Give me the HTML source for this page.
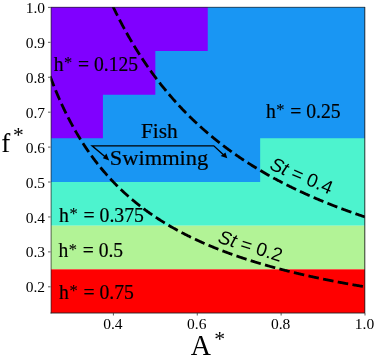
<!DOCTYPE html>
<html><head><meta charset="utf-8"><style>
html,body{margin:0;padding:0;background:#fff;width:375px;height:358px;overflow:hidden}
svg{display:block;will-change:transform}
</style></head><body>
<svg width="375" height="358" viewBox="0 0 375 358">
<defs><clipPath id="r"><rect x="51" y="7" width="314" height="306"/></clipPath></defs><g clip-path="url(#r)">
<rect x="46.31" y="3.91" width="322.89" height="178.12" fill="#1996f3"/>
<polygon points="46.31,3.91 207.75,3.91 207.75,51.06 155.33,51.06 155.33,94.71 102.92,94.71 102.92,138.37 46.31,138.37" fill="#8000ff"/>
<polygon points="46.31,182.03 260.17,182.03 260.17,138.37 369.19,138.37 369.19,225.69 46.31,225.69" fill="#4df3ce"/>
<rect x="46.31" y="225.69" width="322.89" height="43.66" fill="#b2f396"/>
<rect x="46.31" y="269.34" width="322.89" height="45.40" fill="#ff0000"/>
</g>
<defs><clipPath id="c"><rect x="50.50" y="7.00" width="314.50" height="306.00"/></clipPath></defs>
<g clip-path="url(#c)" fill="none" stroke="#000" stroke-width="2.8" stroke-dasharray="10.6 4.35">
<polyline points="29.53,-341.86 29.95,-338.38 30.37,-334.93 30.79,-331.52 31.21,-328.14 31.63,-324.80 32.05,-321.49 32.47,-318.21 32.89,-314.96 33.31,-311.74 33.73,-308.55 34.15,-305.40 34.57,-302.27 34.99,-299.17 35.41,-296.11 35.83,-293.07 36.25,-290.06 36.67,-287.07 37.09,-284.12 37.51,-281.19 37.93,-278.28 38.35,-275.41 38.77,-272.56 39.19,-269.73 39.61,-266.93 40.03,-264.16 40.45,-261.41 40.87,-258.68 41.29,-255.98 41.71,-253.30 42.13,-250.65 42.55,-248.02 42.97,-245.41 43.39,-242.82 43.81,-240.26 44.23,-237.71 44.65,-235.19 45.07,-232.69 45.49,-230.21 45.91,-227.75 46.33,-225.32 46.75,-222.90 47.17,-220.50 47.59,-218.12 48.01,-215.77 48.43,-213.43 48.85,-211.11 49.27,-208.81 49.69,-206.52 50.11,-204.26 50.53,-202.01 50.95,-199.79 51.37,-197.58 51.79,-195.38 52.21,-193.21 52.63,-191.05 53.05,-188.91 53.47,-186.78 53.89,-184.67 54.30,-182.58 54.72,-180.51 55.14,-178.45 55.56,-176.40 55.98,-174.37 56.40,-172.36 56.82,-170.36 57.24,-168.38 57.66,-166.41 58.08,-164.46 58.50,-162.52 58.92,-160.59 59.34,-158.68 59.76,-156.79 60.18,-154.90 60.60,-153.04 61.02,-151.18 61.44,-149.34 61.86,-147.51 62.28,-145.69 62.70,-143.89 63.12,-142.10 63.54,-140.33 63.96,-138.56 64.38,-136.81 64.80,-135.07 65.22,-133.35 65.64,-131.63 66.06,-129.93 66.48,-128.24 66.90,-126.56 67.32,-124.89 67.74,-123.23 68.16,-121.59 68.58,-119.96 69.00,-118.33 69.42,-116.72 69.84,-115.12 70.26,-113.53 70.68,-111.95 71.10,-110.38 71.52,-108.82 71.94,-107.28 72.36,-105.74 72.78,-104.21 73.20,-102.70 73.62,-101.19 74.04,-99.69 74.46,-98.20 74.88,-96.72 75.30,-95.26 75.72,-93.80 76.14,-92.35 76.56,-90.91 76.98,-89.48 77.40,-88.05 77.82,-86.64 78.24,-85.24 78.66,-83.84 79.08,-82.46 79.50,-81.08 79.92,-79.71 80.34,-78.35 80.76,-77.00 81.18,-75.65 81.60,-74.32 82.02,-72.99 82.44,-71.67 82.86,-70.36 83.28,-69.06 83.70,-67.76 84.11,-66.48 84.53,-65.20 84.95,-63.93 85.37,-62.66 85.79,-61.40 86.21,-60.16 86.63,-58.91 87.05,-57.68 87.47,-56.45 87.89,-55.23 88.31,-54.02 88.73,-52.82 89.15,-51.62 89.57,-50.43 89.99,-49.24 90.41,-48.07 90.83,-46.90 91.25,-45.73 91.67,-44.57 92.09,-43.42 92.51,-42.28 92.93,-41.14 93.35,-40.01 93.77,-38.89 94.19,-37.77 94.61,-36.66 95.03,-35.55 95.45,-34.45 95.87,-33.36 96.29,-32.27 96.71,-31.19 97.13,-30.12 97.55,-29.05 97.97,-27.98 98.39,-26.93 98.81,-25.87 99.23,-24.83 99.65,-23.79 100.07,-22.75 100.49,-21.72 100.91,-20.70 101.33,-19.68 101.75,-18.67 102.17,-17.66 102.59,-16.66 103.01,-15.67 103.43,-14.68 103.85,-13.69 104.27,-12.71 104.69,-11.73 105.11,-10.76 105.53,-9.80 105.95,-8.84 106.37,-7.88 106.79,-6.93 107.21,-5.99 107.63,-5.05 108.05,-4.11 108.47,-3.18 108.89,-2.26 109.31,-1.34 109.73,-0.42 110.15,0.49 110.57,1.40 110.99,2.30 111.41,3.20 111.83,4.09 112.25,4.98 112.67,5.86 113.09,6.74 113.50,7.62 113.92,8.49 114.34,9.36 114.76,10.22 115.18,11.08 115.60,11.93 116.02,12.78 116.44,13.63 116.86,14.47 117.28,15.30 117.70,16.14 118.12,16.97 118.54,17.79 118.96,18.61 119.38,19.43 119.80,20.24 120.22,21.05 120.64,21.86 121.06,22.66 121.48,23.46 121.90,24.25 122.32,25.04 122.74,25.83 123.16,26.61 123.58,27.39 124.00,28.16 124.42,28.93 124.84,29.70 125.26,30.47 125.68,31.23 126.10,31.98 126.52,32.74 126.94,33.49 127.36,34.23 127.78,34.98 128.20,35.72 128.62,36.45 129.04,37.19 129.46,37.92 129.88,38.64 130.30,39.37 130.72,40.09 131.14,40.80 131.56,41.52 131.98,42.23 132.40,42.93 132.82,43.64 133.24,44.34 133.66,45.04 134.08,45.73 134.50,46.42 134.92,47.11 135.34,47.80 135.76,48.48 136.18,49.16 136.60,49.83 137.02,50.51 137.44,51.18 137.86,51.84 138.28,52.51 138.70,53.17 139.12,53.83 139.54,54.48 139.96,55.14 140.38,55.79 140.80,56.44 141.22,57.08 141.64,57.72 142.06,58.36 142.48,59.00 142.90,59.63 143.31,60.26 143.73,60.89 144.15,61.52 144.57,62.14 144.99,62.76 145.41,63.38 145.83,63.99 146.25,64.60 146.67,65.21 147.09,65.82 147.51,66.43 147.93,67.03 148.35,67.63 148.77,68.23 149.19,68.82 149.61,69.41 150.03,70.00 150.45,70.59 150.87,71.18 151.29,71.76 151.71,72.34 152.13,72.92 152.55,73.49 152.97,74.07 153.39,74.64 153.81,75.21 154.23,75.77 154.65,76.34 155.07,76.90 155.49,77.46 155.91,78.02 156.33,78.57 156.75,79.13 157.17,79.68 157.59,80.23 158.01,80.77 158.43,81.32 158.85,81.86 159.27,82.40 159.69,82.94 160.11,83.47 160.53,84.01 160.95,84.54 161.37,85.07 161.79,85.60 162.21,86.12 162.63,86.65 163.05,87.17 163.47,87.69 163.89,88.20 164.31,88.72 164.73,89.23 165.15,89.75 165.57,90.25 165.99,90.76 166.41,91.27 166.83,91.77 167.25,92.27 167.67,92.77 168.09,93.27 168.51,93.77 168.93,94.26 169.35,94.76 169.77,95.25 170.19,95.73 170.61,96.22 171.03,96.71 171.45,97.19 171.87,97.67 172.29,98.15 172.70,98.63 173.12,99.11 173.54,99.58 173.96,100.05 174.38,100.52 174.80,100.99 175.22,101.46 175.64,101.93 176.06,102.39 176.48,102.85 176.90,103.31 177.32,103.77 177.74,104.23 178.16,104.69 178.58,105.14 179.00,105.59 179.42,106.05 179.84,106.49 180.26,106.94 180.68,107.39 181.10,107.83 181.52,108.28 181.94,108.72 182.36,109.16 182.78,109.60 183.20,110.03 183.62,110.47 184.04,110.90 184.46,111.33 184.88,111.76 185.30,112.19 185.72,112.62 186.14,113.05 186.56,113.47 186.98,113.89 187.40,114.32 187.82,114.74 188.24,115.15 188.66,115.57 189.08,115.99 189.50,116.40 189.92,116.81 190.34,117.23 190.76,117.64 191.18,118.05 191.60,118.45 192.02,118.86 192.44,119.26 192.86,119.67 193.28,120.07 193.70,120.47 194.12,120.87 194.54,121.27 194.96,121.66 195.38,122.06 195.80,122.45 196.22,122.84 196.64,123.23 197.06,123.62 197.48,124.01 197.90,124.40 198.32,124.79 198.74,125.17 199.16,125.55 199.58,125.94 200.00,126.32 200.42,126.70 200.84,127.08 201.26,127.45 201.68,127.83 202.10,128.20 202.51,128.58 202.93,128.95 203.35,129.32 203.77,129.69 204.19,130.06 204.61,130.43 205.03,130.79 205.45,131.16 205.87,131.52 206.29,131.88 206.71,132.25 207.13,132.61 207.55,132.96 207.97,133.32 208.39,133.68 208.81,134.04 209.23,134.39 209.65,134.74 210.07,135.10 210.49,135.45 210.91,135.80 211.33,136.15 211.75,136.49 212.17,136.84 212.59,137.19 213.01,137.53 213.43,137.88 213.85,138.22 214.27,138.56 214.69,138.90 215.11,139.24 215.53,139.58 215.95,139.91 216.37,140.25 216.79,140.59 217.21,140.92 217.63,141.25 218.05,141.58 218.47,141.92 218.89,142.25 219.31,142.57 219.73,142.90 220.15,143.23 220.57,143.56 220.99,143.88 221.41,144.20 221.83,144.53 222.25,144.85 222.67,145.17 223.09,145.49 223.51,145.81 223.93,146.13 224.35,146.45 224.77,146.76 225.19,147.08 225.61,147.39 226.03,147.70 226.45,148.02 226.87,148.33 227.29,148.64 227.71,148.95 228.13,149.26 228.55,149.57 228.97,149.87 229.39,150.18 229.81,150.48 230.23,150.79 230.65,151.09 231.07,151.39 231.49,151.69 231.90,152.00 232.32,152.30 232.74,152.59 233.16,152.89 233.58,153.19 234.00,153.49 234.42,153.78 234.84,154.08 235.26,154.37 235.68,154.66 236.10,154.95 236.52,155.25 236.94,155.54 237.36,155.82 237.78,156.11 238.20,156.40 238.62,156.69 239.04,156.97 239.46,157.26 239.88,157.54 240.30,157.83 240.72,158.11 241.14,158.39 241.56,158.67 241.98,158.96 242.40,159.23 242.82,159.51 243.24,159.79 243.66,160.07 244.08,160.35 244.50,160.62 244.92,160.90 245.34,161.17 245.76,161.44 246.18,161.72 246.60,161.99 247.02,162.26 247.44,162.53 247.86,162.80 248.28,163.07 248.70,163.34 249.12,163.61 249.54,163.87 249.96,164.14 250.38,164.40 250.80,164.67 251.22,164.93 251.64,165.19 252.06,165.46 252.48,165.72 252.90,165.98 253.32,166.24 253.74,166.50 254.16,166.76 254.58,167.02 255.00,167.27 255.42,167.53 255.84,167.79 256.26,168.04 256.68,168.30 257.10,168.55 257.52,168.80 257.94,169.06 258.36,169.31 258.78,169.56 259.20,169.81 259.62,170.06 260.04,170.31 260.46,170.56 260.88,170.81 261.30,171.05 261.71,171.30 262.13,171.55 262.55,171.79 262.97,172.03 263.39,172.28 263.81,172.52 264.23,172.76 264.65,173.01 265.07,173.25 265.49,173.49 265.91,173.73 266.33,173.97 266.75,174.21 267.17,174.45 267.59,174.68 268.01,174.92 268.43,175.16 268.85,175.39 269.27,175.63 269.69,175.86 270.11,176.10 270.53,176.33 270.95,176.56 271.37,176.79 271.79,177.03 272.21,177.26 272.63,177.49 273.05,177.72 273.47,177.95 273.89,178.18 274.31,178.40 274.73,178.63 275.15,178.86 275.57,179.08 275.99,179.31 276.41,179.53 276.83,179.76 277.25,179.98 277.67,180.21 278.09,180.43 278.51,180.65 278.93,180.87 279.35,181.09 279.77,181.32 280.19,181.54 280.61,181.75 281.03,181.97 281.45,182.19 281.87,182.41 282.29,182.63 282.71,182.84 283.13,183.06 283.55,183.28 283.97,183.49 284.39,183.71 284.81,183.92 285.23,184.13 285.65,184.35 286.07,184.56 286.49,184.77 286.91,184.98 287.33,185.19 287.75,185.40 288.17,185.61 288.59,185.82 289.01,186.03 289.43,186.24 289.85,186.45 290.27,186.66 290.69,186.86 291.10,187.07 291.52,187.28 291.94,187.48 292.36,187.69 292.78,187.89 293.20,188.09 293.62,188.30 294.04,188.50 294.46,188.70 294.88,188.90 295.30,189.11 295.72,189.31 296.14,189.51 296.56,189.71 296.98,189.91 297.40,190.11 297.82,190.30 298.24,190.50 298.66,190.70 299.08,190.90 299.50,191.09 299.92,191.29 300.34,191.49 300.76,191.68 301.18,191.88 301.60,192.07 302.02,192.26 302.44,192.46 302.86,192.65 303.28,192.84 303.70,193.04 304.12,193.23 304.54,193.42 304.96,193.61 305.38,193.80 305.80,193.99 306.22,194.18 306.64,194.37 307.06,194.56 307.48,194.74 307.90,194.93 308.32,195.12 308.74,195.31 309.16,195.49 309.58,195.68 310.00,195.86 310.42,196.05 310.84,196.23 311.26,196.42 311.68,196.60 312.10,196.79 312.52,196.97 312.94,197.15 313.36,197.33 313.78,197.51 314.20,197.70 314.62,197.88 315.04,198.06 315.46,198.24 315.88,198.42 316.30,198.60 316.72,198.78 317.14,198.95 317.56,199.13 317.98,199.31 318.40,199.49 318.82,199.66 319.24,199.84 319.66,200.02 320.08,200.19 320.50,200.37 320.91,200.54 321.33,200.72 321.75,200.89 322.17,201.06 322.59,201.24 323.01,201.41 323.43,201.58 323.85,201.75 324.27,201.93 324.69,202.10 325.11,202.27 325.53,202.44 325.95,202.61 326.37,202.78 326.79,202.95 327.21,203.12 327.63,203.29 328.05,203.46 328.47,203.62 328.89,203.79 329.31,203.96 329.73,204.13 330.15,204.29 330.57,204.46 330.99,204.62 331.41,204.79 331.83,204.95 332.25,205.12 332.67,205.28 333.09,205.45 333.51,205.61 333.93,205.78 334.35,205.94 334.77,206.10 335.19,206.26 335.61,206.42 336.03,206.59 336.45,206.75 336.87,206.91 337.29,207.07 337.71,207.23 338.13,207.39 338.55,207.55 338.97,207.71 339.39,207.87 339.81,208.03 340.23,208.18 340.65,208.34 341.07,208.50 341.49,208.66 341.91,208.81 342.33,208.97 342.75,209.13 343.17,209.28 343.59,209.44 344.01,209.59 344.43,209.75 344.85,209.90 345.27,210.06 345.69,210.21 346.11,210.36 346.53,210.52 346.95,210.67 347.37,210.82 347.79,210.97 348.21,211.13 348.63,211.28 349.05,211.43 349.47,211.58 349.89,211.73 350.30,211.88 350.72,212.03 351.14,212.18 351.56,212.33 351.98,212.48 352.40,212.63 352.82,212.78 353.24,212.92 353.66,213.07 354.08,213.22 354.50,213.37 354.92,213.51 355.34,213.66 355.76,213.81 356.18,213.95 356.60,214.10 357.02,214.25 357.44,214.39 357.86,214.54 358.28,214.68 358.70,214.82 359.12,214.97 359.54,215.11 359.96,215.26 360.38,215.40 360.80,215.54 361.22,215.68 361.64,215.83 362.06,215.97 362.48,216.11 362.90,216.25 363.32,216.39 363.74,216.53 364.16,216.67 364.58,216.81 365.00,216.95" stroke-dashoffset="14.35"/>
<polyline points="29.53,7.40 29.95,9.14 30.37,10.86 30.79,12.57 31.21,14.26 31.63,15.93 32.05,17.58 32.47,19.22 32.89,20.85 33.31,22.46 33.73,24.05 34.15,25.63 34.57,27.19 34.99,28.74 35.41,30.28 35.83,31.80 36.25,33.30 36.67,34.79 37.09,36.27 37.51,37.74 37.93,39.19 38.35,40.62 38.77,42.05 39.19,43.46 39.61,44.86 40.03,46.25 40.45,47.62 40.87,48.99 41.29,50.34 41.71,51.68 42.13,53.00 42.55,54.32 42.97,55.63 43.39,56.92 43.81,58.20 44.23,59.47 44.65,60.73 45.07,61.98 45.49,63.22 45.91,64.45 46.33,65.67 46.75,66.88 47.17,68.08 47.59,69.27 48.01,70.45 48.43,71.61 48.85,72.77 49.27,73.93 49.69,75.07 50.11,76.20 50.53,77.32 50.95,78.44 51.37,79.54 51.79,80.64 52.21,81.72 52.63,82.80 53.05,83.87 53.47,84.94 53.89,85.99 54.30,87.04 54.72,88.08 55.14,89.11 55.56,90.13 55.98,91.14 56.40,92.15 56.82,93.15 57.24,94.14 57.66,95.12 58.08,96.10 58.50,97.07 58.92,98.03 59.34,98.99 59.76,99.94 60.18,100.88 60.60,101.81 61.02,102.74 61.44,103.66 61.86,104.57 62.28,105.48 62.70,106.38 63.12,107.28 63.54,108.17 63.96,109.05 64.38,109.92 64.80,110.79 65.22,111.66 65.64,112.51 66.06,113.36 66.48,114.21 66.90,115.05 67.32,115.88 67.74,116.71 68.16,117.53 68.58,118.35 69.00,119.16 69.42,119.97 69.84,120.77 70.26,121.56 70.68,122.35 71.10,123.14 71.52,123.92 71.94,124.69 72.36,125.46 72.78,126.22 73.20,126.98 73.62,127.73 74.04,128.48 74.46,129.23 74.88,129.97 75.30,130.70 75.72,131.43 76.14,132.15 76.56,132.87 76.98,133.59 77.40,134.30 77.82,135.01 78.24,135.71 78.66,136.41 79.08,137.10 79.50,137.79 79.92,138.47 80.34,139.15 80.76,139.83 81.18,140.50 81.60,141.17 82.02,141.83 82.44,142.49 82.86,143.15 83.28,143.80 83.70,144.45 84.11,145.09 84.53,145.73 84.95,146.37 85.37,147.00 85.79,147.63 86.21,148.25 86.63,148.87 87.05,149.49 87.47,150.10 87.89,150.71 88.31,151.32 88.73,151.92 89.15,152.52 89.57,153.11 89.99,153.71 90.41,154.30 90.83,154.88 91.25,155.46 91.67,156.04 92.09,156.62 92.51,157.19 92.93,157.76 93.35,158.32 93.77,158.89 94.19,159.44 94.61,160.00 95.03,160.55 95.45,161.10 95.87,161.65 96.29,162.19 96.71,162.73 97.13,163.27 97.55,163.81 97.97,164.34 98.39,164.87 98.81,165.39 99.23,165.91 99.65,166.43 100.07,166.95 100.49,167.47 100.91,167.98 101.33,168.49 101.75,168.99 102.17,169.50 102.59,170.00 103.01,170.50 103.43,170.99 103.85,171.48 104.27,171.97 104.69,172.46 105.11,172.95 105.53,173.43 105.95,173.91 106.37,174.39 106.79,174.86 107.21,175.33 107.63,175.80 108.05,176.27 108.47,176.74 108.89,177.20 109.31,177.66 109.73,178.12 110.15,178.57 110.57,179.03 110.99,179.48 111.41,179.93 111.83,180.37 112.25,180.82 112.67,181.26 113.09,181.70 113.50,182.14 113.92,182.57 114.34,183.01 114.76,183.44 115.18,183.87 115.60,184.29 116.02,184.72 116.44,185.14 116.86,185.56 117.28,185.98 117.70,186.40 118.12,186.81 118.54,187.22 118.96,187.63 119.38,188.04 119.80,188.45 120.22,188.85 120.64,189.26 121.06,189.66 121.48,190.06 121.90,190.45 122.32,190.85 122.74,191.24 123.16,191.63 123.58,192.02 124.00,192.41 124.42,192.80 124.84,193.18 125.26,193.56 125.68,193.94 126.10,194.32 126.52,194.70 126.94,195.07 127.36,195.45 127.78,195.82 128.20,196.19 128.62,196.56 129.04,196.92 129.46,197.29 129.88,197.65 130.30,198.01 130.72,198.37 131.14,198.73 131.56,199.09 131.98,199.44 132.40,199.80 132.82,200.15 133.24,200.50 133.66,200.85 134.08,201.19 134.50,201.54 134.92,201.88 135.34,202.23 135.76,202.57 136.18,202.91 136.60,203.25 137.02,203.58 137.44,203.92 137.86,204.25 138.28,204.58 138.70,204.91 139.12,205.24 139.54,205.57 139.96,205.90 140.38,206.22 140.80,206.55 141.22,206.87 141.64,207.19 142.06,207.51 142.48,207.83 142.90,208.14 143.31,208.46 143.73,208.77 144.15,209.09 144.57,209.40 144.99,209.71 145.41,210.02 145.83,210.32 146.25,210.63 146.67,210.94 147.09,211.24 147.51,211.54 147.93,211.84 148.35,212.14 148.77,212.44 149.19,212.74 149.61,213.04 150.03,213.33 150.45,213.62 150.87,213.92 151.29,214.21 151.71,214.50 152.13,214.79 152.55,215.08 152.97,215.36 153.39,215.65 153.81,215.93 154.23,216.22 154.65,216.50 155.07,216.78 155.49,217.06 155.91,217.34 156.33,217.62 156.75,217.89 157.17,218.17 157.59,218.44 158.01,218.72 158.43,218.99 158.85,219.26 159.27,219.53 159.69,219.80 160.11,220.07 160.53,220.33 160.95,220.60 161.37,220.86 161.79,221.13 162.21,221.39 162.63,221.65 163.05,221.91 163.47,222.17 163.89,222.43 164.31,222.69 164.73,222.95 165.15,223.20 165.57,223.46 165.99,223.71 166.41,223.96 166.83,224.21 167.25,224.47 167.67,224.72 168.09,224.96 168.51,225.21 168.93,225.46 169.35,225.71 169.77,225.95 170.19,226.20 170.61,226.44 171.03,226.68 171.45,226.92 171.87,227.16 172.29,227.40 172.70,227.64 173.12,227.88 173.54,228.12 173.96,228.36 174.38,228.59 174.80,228.83 175.22,229.06 175.64,229.29 176.06,229.52 176.48,229.76 176.90,229.99 177.32,230.22 177.74,230.44 178.16,230.67 178.58,230.90 179.00,231.13 179.42,231.35 179.84,231.58 180.26,231.80 180.68,232.02 181.10,232.24 181.52,232.47 181.94,232.69 182.36,232.91 182.78,233.13 183.20,233.34 183.62,233.56 184.04,233.78 184.46,233.99 184.88,234.21 185.30,234.42 185.72,234.64 186.14,234.85 186.56,235.06 186.98,235.28 187.40,235.49 187.82,235.70 188.24,235.91 188.66,236.11 189.08,236.32 189.50,236.53 189.92,236.74 190.34,236.94 190.76,237.15 191.18,237.35 191.60,237.55 192.02,237.76 192.44,237.96 192.86,238.16 193.28,238.36 193.70,238.56 194.12,238.76 194.54,238.96 194.96,239.16 195.38,239.36 195.80,239.55 196.22,239.75 196.64,239.95 197.06,240.14 197.48,240.34 197.90,240.53 198.32,240.72 198.74,240.91 199.16,241.11 199.58,241.30 200.00,241.49 200.42,241.68 200.84,241.87 201.26,242.05 201.68,242.24 202.10,242.43 202.51,242.62 202.93,242.80 203.35,242.99 203.77,243.17 204.19,243.36 204.61,243.54 205.03,243.72 205.45,243.91 205.87,244.09 206.29,244.27 206.71,244.45 207.13,244.63 207.55,244.81 207.97,244.99 208.39,245.17 208.81,245.35 209.23,245.52 209.65,245.70 210.07,245.88 210.49,246.05 210.91,246.23 211.33,246.40 211.75,246.58 212.17,246.75 212.59,246.92 213.01,247.09 213.43,247.27 213.85,247.44 214.27,247.61 214.69,247.78 215.11,247.95 215.53,248.12 215.95,248.29 216.37,248.45 216.79,248.62 217.21,248.79 217.63,248.95 218.05,249.12 218.47,249.29 218.89,249.45 219.31,249.62 219.73,249.78 220.15,249.94 220.57,250.11 220.99,250.27 221.41,250.43 221.83,250.59 222.25,250.75 222.67,250.91 223.09,251.07 223.51,251.23 223.93,251.39 224.35,251.55 224.77,251.71 225.19,251.87 225.61,252.02 226.03,252.18 226.45,252.34 226.87,252.49 227.29,252.65 227.71,252.80 228.13,252.96 228.55,253.11 228.97,253.26 229.39,253.42 229.81,253.57 230.23,253.72 230.65,253.87 231.07,254.03 231.49,254.18 231.90,254.33 232.32,254.48 232.74,254.63 233.16,254.77 233.58,254.92 234.00,255.07 234.42,255.22 234.84,255.37 235.26,255.51 235.68,255.66 236.10,255.81 236.52,255.95 236.94,256.10 237.36,256.24 237.78,256.39 238.20,256.53 238.62,256.67 239.04,256.82 239.46,256.96 239.88,257.10 240.30,257.24 240.72,257.38 241.14,257.53 241.56,257.67 241.98,257.81 242.40,257.95 242.82,258.09 243.24,258.22 243.66,258.36 244.08,258.50 244.50,258.64 244.92,258.78 245.34,258.91 245.76,259.05 246.18,259.19 246.60,259.32 247.02,259.46 247.44,259.59 247.86,259.73 248.28,259.86 248.70,260.00 249.12,260.13 249.54,260.26 249.96,260.40 250.38,260.53 250.80,260.66 251.22,260.79 251.64,260.93 252.06,261.06 252.48,261.19 252.90,261.32 253.32,261.45 253.74,261.58 254.16,261.71 254.58,261.84 255.00,261.97 255.42,262.09 255.84,262.22 256.26,262.35 256.68,262.48 257.10,262.60 257.52,262.73 257.94,262.86 258.36,262.98 258.78,263.11 259.20,263.23 259.62,263.36 260.04,263.48 260.46,263.61 260.88,263.73 261.30,263.85 261.71,263.98 262.13,264.10 262.55,264.22 262.97,264.35 263.39,264.47 263.81,264.59 264.23,264.71 264.65,264.83 265.07,264.95 265.49,265.07 265.91,265.19 266.33,265.31 266.75,265.43 267.17,265.55 267.59,265.67 268.01,265.79 268.43,265.91 268.85,266.02 269.27,266.14 269.69,266.26 270.11,266.38 270.53,266.49 270.95,266.61 271.37,266.73 271.79,266.84 272.21,266.96 272.63,267.07 273.05,267.19 273.47,267.30 273.89,267.42 274.31,267.53 274.73,267.64 275.15,267.76 275.57,267.87 275.99,267.98 276.41,268.10 276.83,268.21 277.25,268.32 277.67,268.43 278.09,268.54 278.51,268.65 278.93,268.77 279.35,268.88 279.77,268.99 280.19,269.10 280.61,269.21 281.03,269.32 281.45,269.42 281.87,269.53 282.29,269.64 282.71,269.75 283.13,269.86 283.55,269.97 283.97,270.07 284.39,270.18 284.81,270.29 285.23,270.40 285.65,270.50 286.07,270.61 286.49,270.71 286.91,270.82 287.33,270.93 287.75,271.03 288.17,271.14 288.59,271.24 289.01,271.34 289.43,271.45 289.85,271.55 290.27,271.66 290.69,271.76 291.10,271.86 291.52,271.97 291.94,272.07 292.36,272.17 292.78,272.27 293.20,272.38 293.62,272.48 294.04,272.58 294.46,272.68 294.88,272.78 295.30,272.88 295.72,272.98 296.14,273.08 296.56,273.18 296.98,273.28 297.40,273.38 297.82,273.48 298.24,273.58 298.66,273.68 299.08,273.78 299.50,273.88 299.92,273.97 300.34,274.07 300.76,274.17 301.18,274.27 301.60,274.36 302.02,274.46 302.44,274.56 302.86,274.65 303.28,274.75 303.70,274.85 304.12,274.94 304.54,275.04 304.96,275.13 305.38,275.23 305.80,275.32 306.22,275.42 306.64,275.51 307.06,275.61 307.48,275.70 307.90,275.79 308.32,275.89 308.74,275.98 309.16,276.07 309.58,276.17 310.00,276.26 310.42,276.35 310.84,276.45 311.26,276.54 311.68,276.63 312.10,276.72 312.52,276.81 312.94,276.90 313.36,277.00 313.78,277.09 314.20,277.18 314.62,277.27 315.04,277.36 315.46,277.45 315.88,277.54 316.30,277.63 316.72,277.72 317.14,277.81 317.56,277.89 317.98,277.98 318.40,278.07 318.82,278.16 319.24,278.25 319.66,278.34 320.08,278.42 320.50,278.51 320.91,278.60 321.33,278.69 321.75,278.77 322.17,278.86 322.59,278.95 323.01,279.03 323.43,279.12 323.85,279.21 324.27,279.29 324.69,279.38 325.11,279.46 325.53,279.55 325.95,279.63 326.37,279.72 326.79,279.80 327.21,279.89 327.63,279.97 328.05,280.06 328.47,280.14 328.89,280.22 329.31,280.31 329.73,280.39 330.15,280.47 330.57,280.56 330.99,280.64 331.41,280.72 331.83,280.81 332.25,280.89 332.67,280.97 333.09,281.05 333.51,281.13 333.93,281.22 334.35,281.30 334.77,281.38 335.19,281.46 335.61,281.54 336.03,281.62 336.45,281.70 336.87,281.78 337.29,281.86 337.71,281.94 338.13,282.02 338.55,282.10 338.97,282.18 339.39,282.26 339.81,282.34 340.23,282.42 340.65,282.50 341.07,282.58 341.49,282.66 341.91,282.73 342.33,282.81 342.75,282.89 343.17,282.97 343.59,283.05 344.01,283.12 344.43,283.20 344.85,283.28 345.27,283.36 345.69,283.43 346.11,283.51 346.53,283.59 346.95,283.66 347.37,283.74 347.79,283.82 348.21,283.89 348.63,283.97 349.05,284.04 349.47,284.12 349.89,284.19 350.30,284.27 350.72,284.34 351.14,284.42 351.56,284.49 351.98,284.57 352.40,284.64 352.82,284.72 353.24,284.79 353.66,284.86 354.08,284.94 354.50,285.01 354.92,285.09 355.34,285.16 355.76,285.23 356.18,285.31 356.60,285.38 357.02,285.45 357.44,285.52 357.86,285.60 358.28,285.67 358.70,285.74 359.12,285.81 359.54,285.88 359.96,285.96 360.38,286.03 360.80,286.10 361.22,286.17 361.64,286.24 362.06,286.31 362.48,286.38 362.90,286.45 363.32,286.52 363.74,286.60 364.16,286.67 364.58,286.74 365.00,286.81" stroke-dashoffset="2.84"/>
</g>
<g stroke="#222" stroke-width="0.9" fill="none"><line x1="51.1" y1="7.00" x2="51.1" y2="313.40" stroke-width="0.7"/><line x1="50.50" y1="7.3" x2="365.00" y2="7.3" stroke-width="0.7"/><line x1="364.80" y1="7.00" x2="364.80" y2="313.00"/><line x1="50.50" y1="313.00" x2="365.00" y2="313.00"/></g>
<g stroke="#333" stroke-width="0.8"><line x1="113.40" y1="313.00" x2="113.40" y2="315.50"/><line x1="197.27" y1="313.00" x2="197.27" y2="315.50"/><line x1="281.13" y1="313.00" x2="281.13" y2="315.50"/><line x1="365.00" y1="313.00" x2="365.00" y2="315.50"/><line x1="48.00" y1="286.81" x2="50.50" y2="286.81"/><line x1="48.00" y1="251.88" x2="50.50" y2="251.88"/><line x1="48.00" y1="216.95" x2="50.50" y2="216.95"/><line x1="48.00" y1="182.03" x2="50.50" y2="182.03"/><line x1="48.00" y1="147.10" x2="50.50" y2="147.10"/><line x1="48.00" y1="112.18" x2="50.50" y2="112.18"/><line x1="48.00" y1="77.25" x2="50.50" y2="77.25"/><line x1="48.00" y1="42.33" x2="50.50" y2="42.33"/><line x1="48.00" y1="7.40" x2="50.50" y2="7.40"/></g>
<g font-family="Liberation Serif" font-size="15.5" fill="#000"><text x="112.90" y="328.7" text-anchor="middle">0.4</text><text x="196.77" y="328.7" text-anchor="middle">0.6</text><text x="280.63" y="328.7" text-anchor="middle">0.8</text><text x="364.50" y="328.7" text-anchor="middle">1.0</text><text x="45.1" y="292.41" text-anchor="end">0.2</text><text x="45.1" y="257.48" text-anchor="end">0.3</text><text x="45.1" y="222.55" text-anchor="end">0.4</text><text x="45.1" y="187.63" text-anchor="end">0.5</text><text x="45.1" y="152.70" text-anchor="end">0.6</text><text x="45.1" y="117.78" text-anchor="end">0.7</text><text x="45.1" y="82.85" text-anchor="end">0.8</text><text x="45.1" y="47.93" text-anchor="end">0.9</text><text x="45.1" y="13.00" text-anchor="end">1.0</text></g>
<text x="100" y="100" font-family="Liberation Serif" font-size="21.5" font-style="normal" xml:space="preserve" stroke="#000" stroke-width="0.2" transform="matrix(0.9123 0 0 0.9355 -37.426 -22.316)">h<tspan font-size="18" stroke-width="0.1" dy="-3" dx="0.5">*</tspan><tspan dy="3" dx="1"> = 0.125</tspan></text>
<text x="100" y="100" font-family="Liberation Serif" font-size="21.5" font-style="normal" xml:space="preserve" stroke="#000" stroke-width="0.2" transform="matrix(0.9148 0 0 0.9677 174.419 20.742)">h<tspan font-size="18" stroke-width="0.1" dy="-3" dx="0.5">*</tspan><tspan dy="3" dx="1"> = 0.25</tspan></text>
<text x="100" y="100" font-family="Liberation Serif" font-size="21.5" font-style="normal" xml:space="preserve" stroke="#000" stroke-width="0.2" transform="matrix(0.9177 0 0 0.9484 -32.671 126.687)">h<tspan font-size="18" stroke-width="0.1" dy="-3" dx="0.5">*</tspan><tspan dy="3" dx="1"> = 0.375</tspan></text>
<text x="100" y="100" font-family="Liberation Serif" font-size="21.5" font-style="normal" xml:space="preserve" stroke="#000" stroke-width="0.2" transform="matrix(0.9110 0 0 0.9290 -32.603 164.532)">h<tspan font-size="18" stroke-width="0.1" dy="-3" dx="0.5">*</tspan><tspan dy="3" dx="1"> = 0.5</tspan></text>
<text x="100" y="100" font-family="Liberation Serif" font-size="21.5" font-style="normal" xml:space="preserve" stroke="#000" stroke-width="0.2" transform="matrix(0.9160 0 0 0.9548 -32.505 203.339)">h<tspan font-size="18" stroke-width="0.1" dy="-3" dx="0.5">*</tspan><tspan dy="3" dx="1"> = 0.75</tspan></text>
<text x="100" y="100" font-family="Liberation Serif" font-size="21.5" font-style="normal" xml:space="preserve" stroke="#000" stroke-width="0.2" transform="matrix(0.9945 0 0 0.9377 41.451 44.495)">Fish</text>
<text x="100" y="100" font-family="Liberation Serif" font-size="21.5" font-style="normal" xml:space="preserve" stroke="#000" stroke-width="0.2" transform="matrix(1.0447 0 0 1.0105 5.320 63.547)">Swimming</text>
<text x="100" y="100" font-family="Liberation Serif" font-size="29" font-style="normal" xml:space="preserve" transform="matrix(0.9371 0 0 0.9610 -92.351 55.702)">f</text>
<text x="100" y="100" font-family="Liberation Serif" font-size="20" font-style="normal" xml:space="preserve" transform="matrix(1.0750 0 0 1.0345 -94.375 38.400)">*</text>
<text x="100" y="100" font-family="Liberation Serif" font-size="29" font-style="normal" xml:space="preserve" transform="matrix(0.9659 0 0 1.0105 94.173 254.347)">A</text>
<text x="100" y="100" font-family="Liberation Serif" font-size="20" font-style="normal" xml:space="preserve" transform="matrix(1.0875 0 0 1.0207 105.463 243.800)">*</text>
<g stroke="#000" stroke-width="1.35" fill="none"><polyline points="106,157.5 92.1,145.8 213.8,145.8 224.5,155.8"/></g>
<g fill="#000"><polygon points="109.2,160.6 102.9,158.2 106.4,153.6"/><polygon points="227.3,158.3 220.6,156 225.5,152.6"/></g>
<text x="268.66" y="168.72" font-family="Liberation Sans" font-size="19" transform="rotate(23 268.66 168.72)" xml:space="preserve"><tspan font-style="italic">St</tspan> = 0.4</text>
<text x="217.05" y="242.2" font-family="Liberation Sans" font-size="19" transform="rotate(17.5 217.05 242.2)" xml:space="preserve"><tspan font-style="italic">St</tspan> = 0.2</text>
</svg>
</body></html>
